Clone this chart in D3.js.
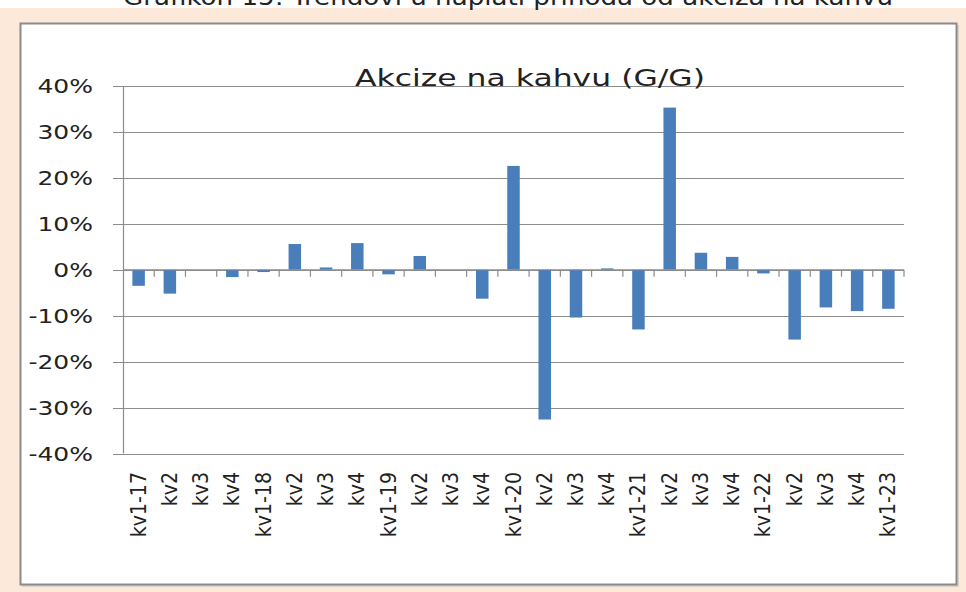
<!DOCTYPE html>
<html><head><meta charset="utf-8">
<script src="https://cdn.jsdelivr.net/npm/d3@7"></script>
<style>
html,body{margin:0;padding:0;background:#fff;}
svg{display:block;}
</style></head>
<body>
<svg id="chart" width="966" height="592"></svg>
<script>
const pageTitle = "Grafikon 15: Trendovi u naplati prihoda od akciza na kahvu";
const chartTitle = "Akcize na kahvu (G/G)";
const categories = ["kv1-17","kv2","kv3","kv4","kv1-18","kv2","kv3","kv4","kv1-19","kv2","kv3","kv4","kv1-20","kv2","kv3","kv4","kv1-21","kv2","kv3","kv4","kv1-22","kv2","kv3","kv4","kv1-23"];
const values = [-3.5,-5.2,0,-1.6,-0.5,5.6,0.5,5.8,-1.0,3.0,0,-6.3,22.6,-32.6,-10.4,0.3,-13.0,35.3,3.7,2.8,-0.8,-15.2,-8.2,-9.0,-8.5];
const yTicks = [-40,-30,-20,-10,0,10,20,30,40];

const svg = d3.select("#chart");
const font = "'DejaVu Sans', Verdana, sans-serif";

// page background
svg.append("rect").attr("x",0).attr("y",8).attr("width",966).attr("height",584).attr("fill","#FDE9D9");
svg.append("text").attr("x",123).attr("y",5).attr("font-family",font).attr("font-size",23)
  .attr("fill","#222").attr("textLength",770).attr("lengthAdjust","spacingAndGlyphs").text(pageTitle);

// chart box with shadow
svg.append("rect").attr("x",22).attr("y",25).attr("width",937).attr("height",562).attr("fill","#bbb").attr("opacity",0.5);
svg.append("rect").attr("x",20.5).attr("y",23.5).attr("width",936).attr("height",561)
  .attr("fill","#fff").attr("stroke","#8a8a8a").attr("stroke-width",2);

const x = d3.scaleBand().domain(d3.range(categories.length)).range([123,904]).paddingInner(0.6).paddingOuter(0.3);
const y = d3.scaleLinear().domain([-40,40]).range([453.5,86]);

// gridlines
svg.append("g").selectAll("line").data(yTicks).join("line")
  .attr("x1",113).attr("x2",904).attr("y1",d=>Math.round(y(d))+0.5).attr("y2",d=>Math.round(y(d))+0.5)
  .attr("stroke","#8c8c8c").attr("stroke-width",1.2);

// y axis line
svg.append("line").attr("x1",123.5).attr("x2",123.5).attr("y1",y(40)).attr("y2",y(-40))
  .attr("stroke","#8c8c8c").attr("stroke-width",1.2);

// y tick labels (slightly stretched horizontally like the reference)
svg.append("g").selectAll("text").data(yTicks).join("text")
  .attr("transform",d=>`translate(93,${y(d)+7}) scale(1.25,1)`).attr("text-anchor","end")
  .attr("font-family",font).attr("font-size",20).attr("fill","#222")
  .text(d=>d+"%");

// title
svg.append("text").attr("x",355).attr("y",86)
  .attr("font-family",font).attr("font-size",23).attr("fill","#222")
  .attr("textLength",350).attr("lengthAdjust","spacingAndGlyphs").text(chartTitle);

// bars
svg.append("g").selectAll("rect").data(values).join("rect")
  .attr("x",(d,i)=>x(i)).attr("width",x.bandwidth())
  .attr("y",d=>y(Math.max(0,d))).attr("height",d=>Math.abs(y(d)-y(0)))
  .attr("fill","#4A7EBB");

// zero axis with ticks
const step = x.step();
svg.append("line").attr("x1",123).attr("x2",904).attr("y1",y(0)).attr("y2",y(0))
  .attr("stroke","#8c8c8c").attr("stroke-width",1.2);
svg.append("g").selectAll("line").data(d3.range(1,categories.length+1)).join("line")
  .attr("x1",i=>x(0)-step*0.3+step*i).attr("x2",i=>x(0)-step*0.3+step*i)
  .attr("y1",y(0)).attr("y2",y(0)+7).attr("stroke","#8c8c8c").attr("stroke-width",1.2);

// x labels
svg.append("g").selectAll("text").data(categories).join("text")
  .attr("transform",(d,i)=>`translate(${x(i)+x.bandwidth()/2+7},472) rotate(-90) scale(1,1.1)`)
  .attr("text-anchor","end").attr("font-family",font).attr("font-size",19).attr("fill","#222")
  .text(d=>d);
</script>
</body></html>
